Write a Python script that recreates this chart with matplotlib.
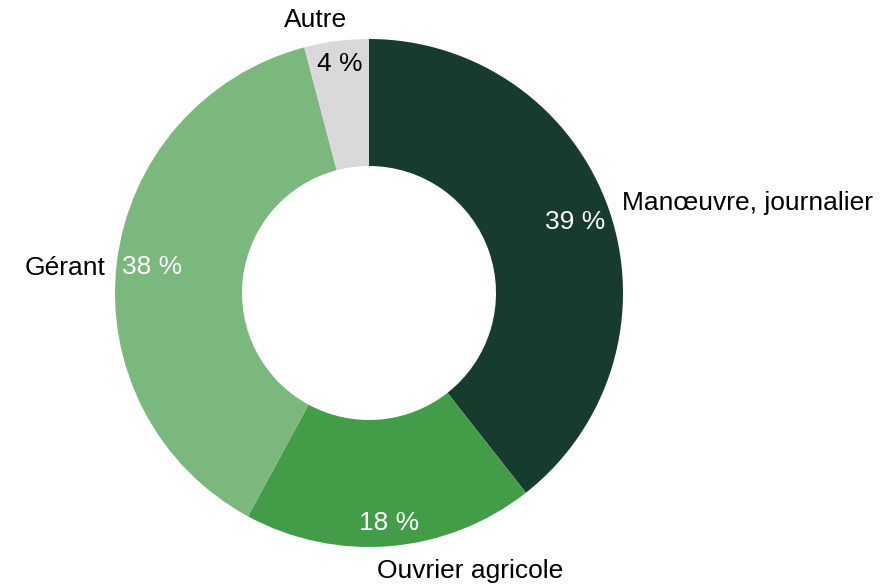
import matplotlib
matplotlib.use("Agg")
import matplotlib.pyplot as plt
import numpy as np

categories = ["Manœuvre, journalier", "Ouvrier agricole", "Gérant", "Autre"]
values = [39.4, 18.5, 38.0, 4.1]
pct_labels = ["39 %", "18 %", "38 %", "4 %"]
colors = ["#173B2D", "#439D48", "#7AB87D", "#D9D9DB"]
text_colors = ["white", "white", "white", "black"]
pct_dist = [0.86, 0.91, 0.86, 0.91]

plt.rcParams['font.family'] = ['Liberation Sans', 'DejaVu Sans']

W, H = 895, 585
cx, cy, R = 369, 293, 254
fig = plt.figure(figsize=(W / 100, H / 100), dpi=100)
ax = fig.add_axes([0, 0, 1, 1])

wedges, _ = ax.pie(values, colors=colors, startangle=90, counterclock=False,
                   radius=1.0, wedgeprops=dict(width=0.5, edgecolor='none'))

ax.set_xlim(-cx / R, (W - cx) / R)
ax.set_ylim(-(H - cy) / R, cy / R)
ax.axis('off')

FS = 19
for w, lab, d, tc in zip(wedges, pct_labels, pct_dist, text_colors):
    ang = np.deg2rad((w.theta1 + w.theta2) / 2)
    ax.text(d * np.cos(ang), d * np.sin(ang), lab, ha='center', va='center',
            color=tc, fontsize=FS)

# outer category labels
outer = [
    (253 / R, 90 / R, 'left', 'center'),
    (101 / R, -278 / R, 'center', 'center'),
    (-264 / R, 25 / R, 'right', 'center'),
    (-53 / R, 273 / R, 'center', 'center'),
]
for name, (x, y, ha, va) in zip(categories, outer):
    ax.text(x, y, name, ha=ha, va=va, fontsize=FS, color='black')

fig.savefig("out.png", dpi=100)
